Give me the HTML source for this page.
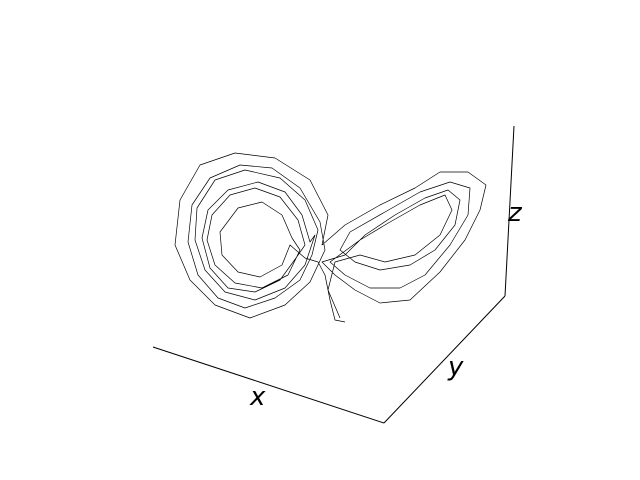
<!DOCTYPE html>
<html><head><meta charset="utf-8"><style>
html,body{margin:0;padding:0;background:#fff;}
svg{display:block;}
text{font-family:"DejaVu Sans","Liberation Sans",sans-serif;font-style:italic;font-size:26px;fill:#000;}
</style></head><body>
<svg id="chart" width="640" height="480" viewBox="0 0 640 480">
<line x1="153" y1="347" x2="384" y2="423" stroke="#000" stroke-width="1"/>
<line x1="384" y1="423" x2="505" y2="296" stroke="#000" stroke-width="1"/>
<line x1="505" y1="296" x2="514" y2="126" stroke="#000" stroke-width="1"/>
<text x="250" y="405">x</text>
<text x="448" y="375">y</text>
<text x="508" y="221">z</text>
<g id="series"></g>
</svg>
<script>
// projected trajectory points [horizontal, vertical]
const spikePts = [[345,322],[335,320],[330,300],[325,275],[318,262],[305,258]];
const leftLoop1 = [[290,245],[282,265],[260,277],[238,272],[222,255],[220,232],[238,208],[262,202],[282,215],[292,238]];
const leftLoop2 = [[300,250],[288,275],[262,288],[235,283],[215,265],[207,240],[212,215],[230,195],[255,188],[280,197],[298,220],[305,245]];
const leftLoop2b = [[296,258],[280,280],[255,292],[228,288],[210,268],[202,238],[208,210],[228,190],[258,182],[285,192],[302,215],[310,242]];
const leftLoop3 = [[315,235],[305,265],[285,288],[255,300],[225,292],[205,270],[195,240],[197,208],[215,180],[245,170],[280,178],[305,200],[318,230]];
const leftLoop3b = [[312,255],[300,280],[275,298],[245,308],[218,298],[198,275],[188,242],[192,205],[210,178],[240,165],[272,168],[300,188],[320,222]];
const leftLoop4 = [[325,250],[310,282],[285,305],[250,318],[215,305],[190,280],[175,245],[180,200],[200,165],[235,153],[275,158],[310,180],[328,215],[322,245]];
const rightLoop1 = [[345,225],[380,205],[415,188],[440,172],[468,172],[486,185],[480,210],[465,240],[440,272],[410,300],[380,303],[355,290],[335,275],[322,262]];
const rightLoop2 = [[345,255],[365,235],[395,215],[425,198],[448,190],[460,200],[455,225],[435,250],[410,265],[380,270],[355,262],[340,250]];
const rightLoop2b = [[350,232],[385,212],[420,192],[450,182],[470,188],[468,215],[450,245],[425,275],[400,288],[370,288],[345,275],[330,262]];
const rightLoop3 = [[360,240],[390,222],[420,205],[445,195],[452,210],[440,235],[415,255],[385,262],[360,255],[335,262],[328,290],[340,318]];
const X0 = 0, KX = 1, Y0 = 0, KY = 1;
function sx(u){ return X0 + u*KX; }
function sy(v){ return Y0 + v*KY; }
const allPts = [].concat(spikePts, leftLoop1, leftLoop2, leftLoop2b, leftLoop3, leftLoop3b, leftLoop4, rightLoop1, rightLoop2, rightLoop2b, rightLoop3);
const g = document.getElementById('series');
let d = '';
for (let i = 0; i < allPts.length; i++) {
  d += (i ? 'L' : 'M') + sx(allPts[i][0]) + ' ' + sy(allPts[i][1]) + ' ';
}
const p = document.createElementNS('http://www.w3.org/2000/svg','path');
p.setAttribute('d', d);
p.setAttribute('fill','none');
p.setAttribute('stroke','#000');
p.setAttribute('stroke-width','0.7');
p.setAttribute('stroke-linejoin','round');


g.appendChild(p);
</script>
</body></html>
